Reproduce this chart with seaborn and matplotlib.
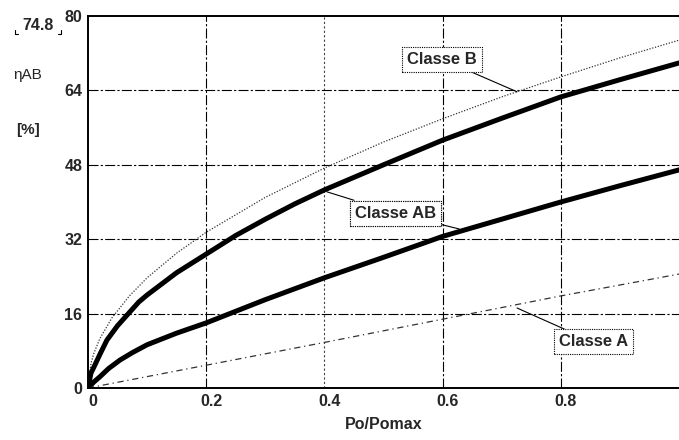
import numpy as np
import pandas as pd
import matplotlib
matplotlib.use("Agg")
import matplotlib.pyplot as plt
import matplotlib.transforms as mtransforms
import seaborn as sns

# Efficiency vs. normalised output power for amplifier classes
x_b = [0, 0.005, 0.01, 0.02, 0.04, 0.07, 0.1, 0.15, 0.2, 0.3, 0.4, 0.5, 0.6, 0.7, 0.8, 0.9, 1.0]
eta_b = [0, 5.3, 7.5, 10.6, 15.0, 19.8, 23.7, 29.0, 33.5, 41.0, 47.3, 52.9, 57.9, 62.6, 66.9, 71.0, 74.8]

x_ab_hi = [0, 0.005, 0.01, 0.02, 0.032, 0.05, 0.086, 0.1, 0.15, 0.2, 0.25, 0.3, 0.35,
           0.4, 0.5, 0.6, 0.7, 0.8, 0.9, 1.0]
eta_ab_hi = [0, 3.2, 4.5, 7.2, 10.3, 13.4, 18.5, 20.0, 24.8, 28.8, 32.8, 36.3, 39.6,
             42.6, 48.0, 53.3, 58.0, 62.6, 66.3, 69.9]

x_ab_lo = [0, 0.01, 0.02, 0.035, 0.054, 0.075, 0.1, 0.15, 0.2, 0.3, 0.4, 0.5, 0.6,
           0.7, 0.8, 0.9, 1.0]
eta_ab_lo = [0, 1.3, 2.4, 4.2, 6.0, 7.6, 9.3, 11.8, 14.0, 19.0, 23.7, 28.1, 32.6,
             36.3, 40.0, 43.5, 46.9]

x_a = [0, 0.2, 0.4, 0.6, 0.8, 1.0]
eta_a = [0, 4.9, 9.8, 14.8, 19.8, 24.5]

x_ticks = [0, 0.2, 0.4, 0.6, 0.8]
y_ticks = [0, 16, 32, 48, 64, 80]
b_max_label = "74.8"

sns.set_theme(style="white")
plt.rcParams["font.family"] = ["Liberation Sans", "DejaVu Sans"]

fig = plt.figure(figsize=(6.79, 4.40), dpi=100)
ax = fig.add_axes([88 / 679, 52 / 440, 591 / 679, 372 / 440])

df_b = pd.DataFrame({"x": x_b, "eta": eta_b})
df_hi = pd.DataFrame({"x": x_ab_hi, "eta": eta_ab_hi})
df_lo = pd.DataFrame({"x": x_ab_lo, "eta": eta_ab_lo})
df_a = pd.DataFrame({"x": x_a, "eta": eta_a})

sns.lineplot(data=df_b, x="x", y="eta", ax=ax, color="#333333", lw=0.9,
             linestyle=(0, (1, 1.3)), estimator=None, sort=False)
sns.lineplot(data=df_hi, x="x", y="eta", ax=ax, color="black", lw=3.6,
             estimator=None, sort=False)
sns.lineplot(data=df_lo, x="x", y="eta", ax=ax, color="black", lw=3.6,
             estimator=None, sort=False)
sns.lineplot(data=df_a, x="x", y="eta", ax=ax, color="#333333", lw=0.9,
             linestyle=(0, (5, 3, 1, 3)), estimator=None, sort=False)

ax.set_xlim(0, 1)
ax.set_ylim(0, 80)
ax.set_xticks(x_ticks)
ax.set_xticklabels([f"{t:g}" for t in x_ticks])
ax.set_yticks(y_ticks)
ax.set_yticklabels([f"{t:g}" for t in y_ticks])
ax.tick_params(length=0, labelsize=11.5, pad=4)
for lab in ax.get_xticklabels() + ax.get_yticklabels():
    lab.set_fontweight("bold")
shift = mtransforms.ScaledTranslation(5 / 100, 0, fig.dpi_scale_trans)
for lab in ax.get_xticklabels():
    lab.set_transform(lab.get_transform() + shift)

ax.grid(True, color="black", lw=0.8, linestyle=(0, (9, 2, 2, 2)))
ax.xaxis.get_gridlines()[2].set_linestyle((0, (2, 2)))
ax.xaxis.get_gridlines()[2].set_color("#444444")
ax.xaxis.get_gridlines()[0].set_visible(False)
ax.yaxis.get_gridlines()[0].set_visible(False)
ax.yaxis.get_gridlines()[-1].set_visible(False)

for side in ["left", "bottom", "top"]:
    ax.spines[side].set_color("black")
    ax.spines[side].set_linewidth(1.4)
ax.spines["right"].set_visible(False)

ax.set_xlabel("Po/Pomax", fontsize=11.5, fontweight="bold", labelpad=6)
ax.set_ylabel("")

fig.text(28 / 679, 1 - 75 / 440, "ηAB", fontsize=11, ha="center", va="center")
fig.text(28 / 679, 1 - 130 / 440, "[%]", fontsize=11, fontweight="bold",
         ha="center", va="center")
fig.text(38 / 679, 1 - 26 / 440, b_max_label, fontsize=11.5, fontweight="bold",
         ha="center", va="center")
# small corner marks around the readout
fig.lines.append(plt.Line2D([15 / 679, 15 / 679, 18 / 679],
                            [1 - 30 / 440, 1 - 34 / 440, 1 - 34 / 440],
                            transform=fig.transFigure, color="black", lw=0.8))
fig.lines.append(plt.Line2D([58 / 679, 61 / 679, 61 / 679],
                            [1 - 34 / 440, 1 - 34 / 440, 1 - 30 / 440],
                            transform=fig.transFigure, color="black", lw=0.8))

box = dict(boxstyle="square,pad=0.3", fc="white", ec="black", lw=0.8,
           linestyle=(0, (1, 1)))
arrow = dict(arrowstyle="-", color="black", lw=0.8, shrinkA=0, shrinkB=0)

ax.annotate("Classe B", xy=(0.726, 63.7), xytext=(0.599, 70.7),
            fontsize=12, fontweight="bold", ha="center", va="center",
            bbox=box, arrowprops=arrow)
ax.annotate("Classe AB", xy=(0.404, 42.2), xytext=(0.52, 37.6),
            fontsize=12, fontweight="bold", ha="center", va="center",
            bbox=box, arrowprops=arrow)
ax.annotate("Classe AB", xy=(0.628, 34.2), xytext=(0.52, 37.6),
            fontsize=12, fontweight="bold", ha="center", va="center",
            bbox=box, arrowprops=arrow)
ax.annotate("Classe A", xy=(0.726, 17.2), xytext=(0.855, 9.9),
            fontsize=12, fontweight="bold", ha="center", va="center",
            bbox=box, arrowprops=arrow)

fig.savefig("out.png", dpi=100)
